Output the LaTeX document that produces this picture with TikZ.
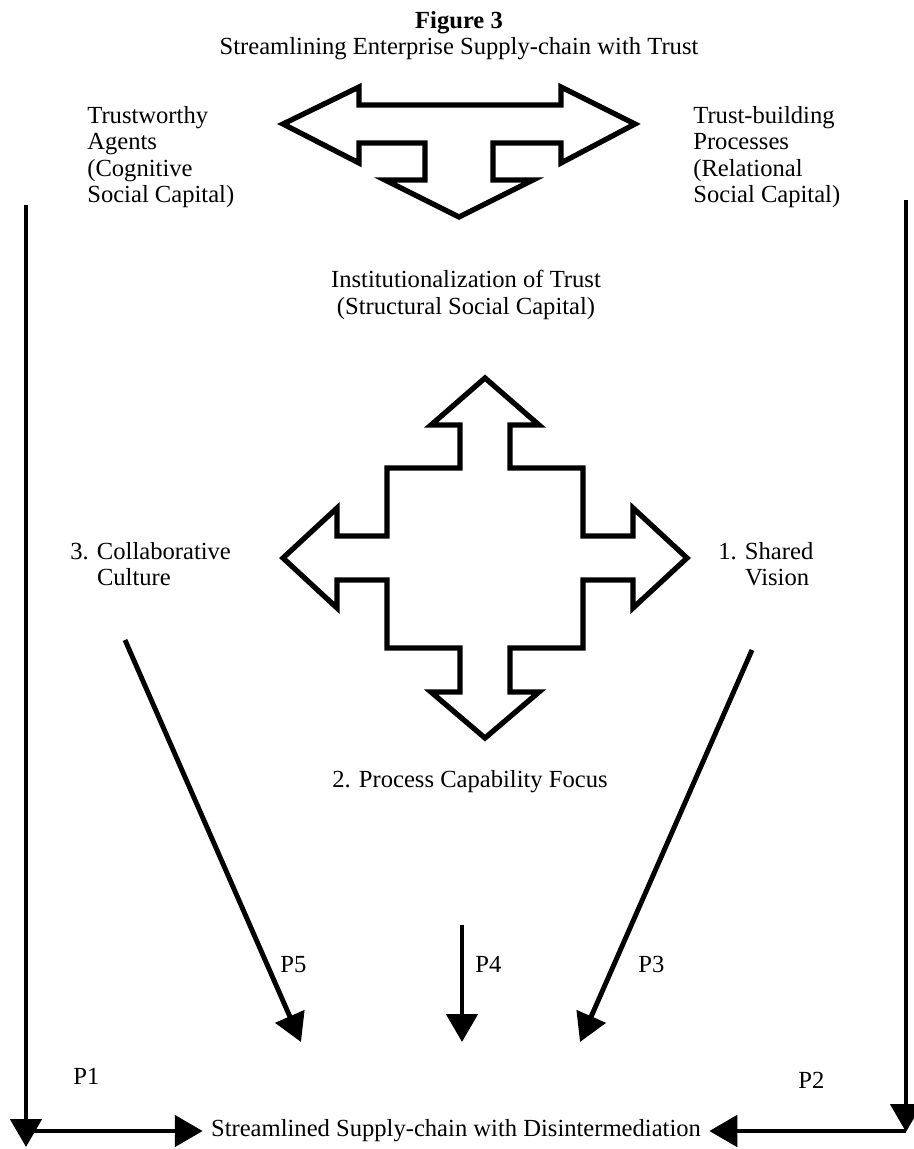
\documentclass[tikz,border=0pt]{standalone}
\usepackage{fontspec}
\setmainfont{Liberation Serif}
\usepackage{tikz}
\usetikzlibrary{arrows.meta}

\begin{document}
\begin{tikzpicture}[x=0.02cm, y=-0.02cm,
    lbl/.style={inner sep=0pt, align=left, font=\fontsize{14pt}{15pt}\selectfont},
    ctr/.style={lbl, align=center},
    link/.style={line width=2.8pt, -{Triangle[width=0.62cm, length=0.56cm]}},
    outline/.style={line width=3pt, line join=miter}]
    \useasboundingbox (0,0) rectangle (913,1149);

    % title
    \node[ctr, anchor=north] (title) at (459,11) {\textbf{Figure 3}\\Streamlining Enterprise Supply-chain with Trust};

    % T-shaped arrow at the top
    \draw[outline] (283,124) -- (359,87) -- (359,105) -- (561,105) -- (561,87) -- (635,124)
        -- (561,163) -- (561,143) -- (493,143) -- (493,180) -- (533,180) -- (459,217)
        -- (385,180) -- (425,180) -- (425,143) -- (359,143) -- (359,163) -- cycle;

    \node[lbl, anchor=north west] (agents) at (87,106) {Trustworthy\\Agents\\(Cognitive\\Social Capital)};
    \node[lbl, anchor=north west] (processes) at (693,106) {Trust-building\\Processes\\(Relational\\Social Capital)};
    \node[ctr, anchor=north] (institution) at (466,270) {Institutionalization of Trust\\(Structural Social Capital)};

    % four-way arrow
    \draw[outline] (485,378) -- (539,425) -- (510,425) -- (510,468) -- (583,468) -- (583,536)
        -- (633,536) -- (633,508) -- (687,558) -- (633,608) -- (633,580) -- (583,580)
        -- (583,648) -- (510,648) -- (510,692) -- (539,692) -- (485,738) -- (431,692)
        -- (460,692) -- (460,648) -- (387,648) -- (387,580) -- (337,580) -- (337,608)
        -- (283,558) -- (337,508) -- (337,536) -- (387,536) -- (387,468) -- (460,468)
        -- (460,425) -- (431,425) -- cycle;

    \node[lbl, anchor=north west] (culture) at (70,542) {3. Collaborative\\\phantom{3. }Culture};
    \node[lbl, anchor=north west] (vision) at (718,542) {1. Shared\\\phantom{1. }Vision};
    \node[ctr, anchor=north] (capability) at (470,770) {2. Process Capability Focus};

    % path labels
    \node[lbl, anchor=base west] (p5) at (280,972) {P5};
    \node[lbl, anchor=base west] (p4) at (475,972) {P4};
    \node[lbl, anchor=base west] (p3) at (638,972) {P3};
    \node[lbl, anchor=base west] (p1) at (73,1084) {P1};
    \node[lbl, anchor=base west] (p2) at (798,1088) {P2};

    \node[ctr, inner xsep=0.16cm] (streamlined) at (456,1131) {Streamlined Supply-chain with Disintermediation};

    % arrow ends
    \coordinate (ltop) at (26,205);
    \coordinate (lbot) at (26,1147);
    \coordinate (lcorner) at (26,1131);
    \coordinate (rtop) at (906,200);
    \coordinate (rbot) at (906,1132);
    \coordinate (rcorner) at (906,1131);
    \coordinate (cstart) at (125,640);
    \coordinate (cend) at (301,1042);
    \coordinate (pstart) at (462,925);
    \coordinate (pend) at (462,1042);
    \coordinate (vstart) at (752,650);
    \coordinate (vend) at (580,1042);

    \draw[link] (ltop) -- (lbot);
    \draw[link] (lcorner) -- (streamlined.west);
    \draw[link] (rtop) -- (rbot);
    \draw[link] (rcorner) -- (streamlined.east);
    \draw[link] (cstart) -- (cend);
    \draw[link] (pstart) -- (pend);
    \draw[link] (vstart) -- (vend);
\end{tikzpicture}
\end{document}
